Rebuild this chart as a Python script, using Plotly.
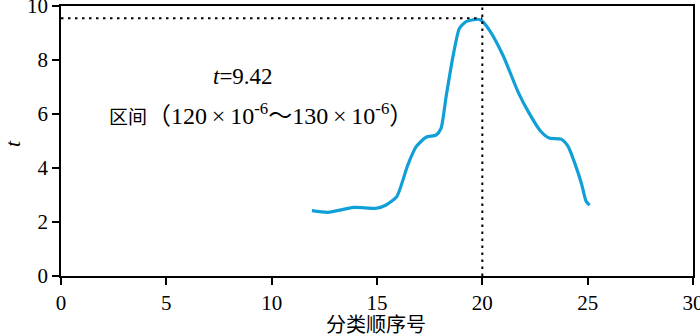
import plotly.graph_objects as go

seq_x = [11.91, 12.67, 13.89, 14.96, 15.43, 15.94, 16.46, 16.86, 17.33, 17.80, 18.04,
         18.28, 18.59, 18.91, 19.23, 19.78, 19.95, 20.35, 21.0, 21.7, 22.2, 22.77,
         23.17, 23.74, 24.07, 24.39, 24.71, 24.92, 25.09]
t_vals = [2.42, 2.36, 2.54, 2.51, 2.63, 2.94, 4.11, 4.79, 5.14, 5.22, 5.47,
          6.64, 8.06, 9.17, 9.42, 9.51, 9.47, 9.09, 8.14, 6.81, 6.06, 5.36,
          5.11, 5.07, 4.80, 4.17, 3.41, 2.78, 2.62]

peak_x = 20
peak_line_y = 9.55
x_ticks = [0, 5, 10, 15, 20, 25, 30]
y_ticks = [0, 2, 4, 6, 8, 10]

serif = "'Times New Roman', 'Liberation Serif', serif"
cjk = "'Times New Roman', 'Liberation Serif', 'Noto Sans CJK SC', serif"
ts = "\u2009"

fig = go.Figure()
fig.add_trace(go.Scatter(x=seq_x, y=t_vals, mode="lines",
                         line=dict(color="#119fd8", width=3.2, shape="spline", smoothing=0.6),
                         showlegend=False, hoverinfo="skip"))
fig.add_trace(go.Scatter(x=[0, peak_x], y=[peak_line_y, peak_line_y], mode="lines",
                         line=dict(color="black", width=2, dash="2.5px,4.5px"),
                         showlegend=False, hoverinfo="skip"))
fig.add_trace(go.Scatter(x=[peak_x, peak_x], y=[0, 10], mode="lines",
                         line=dict(color="black", width=2, dash="2.5px,4.5px"),
                         showlegend=False, hoverinfo="skip"))

fig.add_annotation(x=8.62, y=7.40, text="<i>t</i>=9.42", showarrow=False,
                   font=dict(family=serif, size=23, color="black"), xanchor="center",
                   yanchor="middle")
fig.add_annotation(x=2.16, y=6.00,
                   text="<span style='font-family:Noto Sans CJK SC;font-size:19px'>区间</span>"
                        f"（120{ts}×{ts}10<sup>-6</sup>～130{ts}×{ts}10<sup>-6</sup>）",
                   showarrow=False, font=dict(family=cjk, size=24, color="black"),
                   xanchor="left", yanchor="middle")
# axis titles
fig.add_annotation(x=0.498, y=-0.175, xref="paper", yref="paper", text="分类顺序号",
                   showarrow=False, font=dict(family="Noto Sans CJK SC", size=20, color="black"),
                   xanchor="center", yanchor="middle")
fig.add_annotation(x=-0.077, y=0.49, xref="paper", yref="paper", text="<i>t</i>",
                   showarrow=False, textangle=-90,
                   font=dict(family=serif, size=22, color="black"),
                   xanchor="center", yanchor="middle")

axis_common = dict(showgrid=False, zeroline=False, showline=True, linecolor="black",
                   linewidth=1.6, mirror=True, ticks="outside", ticklen=7,
                   tickwidth=1.6, tickcolor="black", automargin=False,
                   ticklabeloverflow="allow",
                   tickfont=dict(family=serif, size=21, color="black"))

fig.update_layout(
    width=700, height=335,
    margin=dict(l=61, r=7, t=6, b=59, pad=0),
    paper_bgcolor="white", plot_bgcolor="white",
    xaxis=dict(range=[0, 30], tickvals=x_ticks, **axis_common),
    yaxis=dict(range=[0, 10], tickvals=y_ticks, **axis_common),
)

fig.write_html("out.html", config={"displayModeBar": False},
               post_script="document.body.style.margin='0';")
